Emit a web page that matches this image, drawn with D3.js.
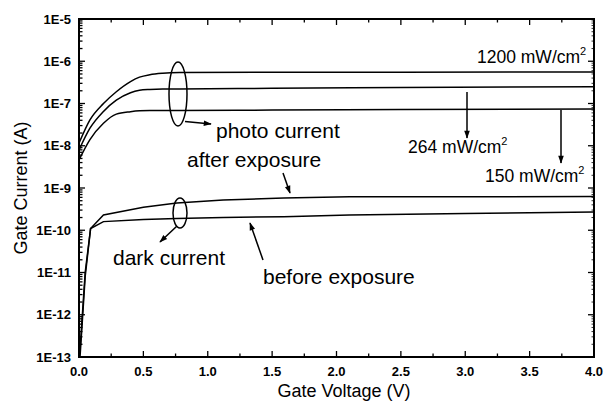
<!DOCTYPE html>
<html>
<head>
<meta charset="utf-8">
<script src="https://cdn.jsdelivr.net/npm/d3@7"></script>
<style>
  body { margin: 0; background: #fff; }
  svg { display: block; font-family: "Liberation Sans", Arial, sans-serif; }
  .tick-label { font-size: 13px; font-weight: bold; }
  .note { font-size: 21px; }
  .power { font-size: 17.5px; }
  .title { font-size: 18px; }
</style>
</head>
<body>
<div id="chart"></div>
<script>
// photo current (A) vs gate voltage (V)
var voltPhoto = [0, 0.085, 0.19, 0.29, 0.40, 0.47, 0.55, 0.65, 0.78, 1.5, 2.5, 4.0];
var photo1200 = [1.15e-8, 4.1e-8, 1.0e-7, 1.9e-7, 3.3e-7, 4.2e-7, 4.8e-7, 5.2e-7, 5.4e-7, 5.5e-7, 5.5e-7, 5.6e-7];
var photo264  = [7.9e-9, 2.6e-8, 6.5e-8, 1.2e-7, 1.8e-7, 2.05e-7, 2.15e-7, 2.2e-7, 2.2e-7, 2.3e-7, 2.4e-7, 2.5e-7];
var photo150  = [4.6e-9, 1.4e-8, 3.4e-8, 5.6e-8, 6.4e-8, 6.7e-8, 6.8e-8, 6.8e-8, 6.8e-8, 7.0e-8, 7.2e-8, 7.4e-8];

// dark current
var voltDark = [0.008, 0.048, 0.09, 0.19, 0.5, 0.76, 1.12, 1.59, 2.1, 3.0, 4.0];
var darkAfter  = [1.5e-13, 1.0e-11, 1.1e-10, 2.3e-10, 3.5e-10, 4.4e-10, 5.2e-10, 5.8e-10, 6.2e-10, 6.2e-10, 6.3e-10];
var darkBefore = [1.0e-13, 8.0e-12, 1.1e-10, 1.6e-10, 1.8e-10, 1.9e-10, 2.0e-10, 2.1e-10, 2.3e-10, 2.5e-10, 2.7e-10];

var xTicks = [0, 0.5, 1.0, 1.5, 2.0, 2.5, 3.0, 3.5, 4.0];
var yTicks = [1e-13, 1e-12, 1e-11, 1e-10, 1e-9, 1e-8, 1e-7, 1e-6, 1e-5];

var margin = {top: 19, right: 12, bottom: 46, left: 79},
    width = 606 - margin.left - margin.right,
    height = 403 - margin.top - margin.bottom;

var svg = d3.select('#chart').append('svg')
    .attr('width', 606)
    .attr('height', 403);

var g = svg.append('g')
    .attr('transform', 'translate(' + margin.left + ',' + margin.top + ')');

var x = d3.scaleLinear().domain([0, 4]).range([0, width]);
var y = d3.scaleLog().domain([1e-13, 1e-5]).range([height, 0]);

var defs = svg.append('defs');
defs.append('marker')
    .attr('id', 'arrow')
    .attr('viewBox', '0 0 10 10')
    .attr('refX', 9).attr('refY', 5)
    .attr('markerWidth', 9).attr('markerHeight', 8)
    .attr('markerUnits', 'userSpaceOnUse')
    .attr('orient', 'auto')
    .append('path')
    .attr('d', 'M0,1.5 L10,5 L0,8.5 Z')
    .attr('fill', '#000');

defs.append('clipPath').attr('id', 'clip')
    .append('rect').attr('width', width).attr('height', height);

// ticks on all four sides, pointing inward
var minorX = d3.range(0, 4.001, 0.25);
var minorY = [];
for (var e = -13; e < -5; e++) {
    for (var k = 2; k <= 9; k++) minorY.push(k * Math.pow(10, e));
}

var ticks = g.append('g').attr('stroke', '#000').attr('stroke-width', 1.3);
minorX.forEach(function(v){
    var len = (Math.abs(v * 2 - Math.round(v * 2)) < 1e-6) ? 6 : 3.5;
    ticks.append('line').attr('x1', x(v)).attr('x2', x(v)).attr('y1', height).attr('y2', height - len);
    ticks.append('line').attr('x1', x(v)).attr('x2', x(v)).attr('y1', 0).attr('y2', len);
});
yTicks.forEach(function(v){
    ticks.append('line').attr('x1', 0).attr('x2', 6).attr('y1', y(v)).attr('y2', y(v));
    ticks.append('line').attr('x1', width).attr('x2', width - 6).attr('y1', y(v)).attr('y2', y(v));
});
minorY.forEach(function(v){
    ticks.append('line').attr('x1', 0).attr('x2', 3.5).attr('y1', y(v)).attr('y2', y(v));
    ticks.append('line').attr('x1', width).attr('x2', width - 2.5).attr('y1', y(v)).attr('y2', y(v))
        .attr('stroke-width', 0.8);
});

g.append('rect')
    .attr('width', width).attr('height', height)
    .attr('fill', 'none').attr('stroke', '#000').attr('stroke-width', 2);

// tick labels
g.selectAll('.xl').data(xTicks).enter().append('text')
    .attr('class', 'tick-label')
    .attr('x', function(d){ return x(d); })
    .attr('y', height + 19)
    .attr('text-anchor', 'middle')
    .text(d3.format('.1f'));

g.selectAll('.yl').data(yTicks).enter().append('text')
    .attr('class', 'tick-label')
    .attr('x', -8)
    .attr('y', function(d){ return y(d) + 4.5; })
    .attr('text-anchor', 'end')
    .text(function(d){ return '1E' + Math.round(Math.log10(d)); });

svg.append('text').attr('class', 'title')
    .attr('x', 344)
    .attr('y', 397)
    .attr('text-anchor', 'middle')
    .text('Gate Voltage (V)');

svg.append('text').attr('class', 'title')
    .attr('transform', 'translate(27,' + (margin.top + height / 2) + ') rotate(-90)')
    .attr('text-anchor', 'middle')
    .text('Gate Current (A)');

// curves
var photoLine = d3.line()
    .x(function(d){ return x(d[0]); })
    .y(function(d){ return y(d[1]); })
    .curve(d3.curveMonotoneX);
var darkLine = d3.line()
    .x(function(d){ return x(d[0]); })
    .y(function(d){ return y(d[1]); });

var curves = g.append('g').attr('clip-path', 'url(#clip)')
    .attr('fill', 'none').attr('stroke', '#000').attr('stroke-width', 1.5);

[photo1200, photo264, photo150].forEach(function(s){
    curves.append('path').attr('d', photoLine(d3.zip(voltPhoto, s)));
});
[darkAfter, darkBefore].forEach(function(s){
    curves.append('path').attr('d', darkLine(d3.zip(voltDark, s)));
});

// annotations (page coordinates, shifted into the plot group)
var ann = g.append('g').attr('fill', 'none').attr('stroke', '#000').attr('stroke-width', 1.5)
    .attr('transform', 'translate(' + (-margin.left) + ',' + (-margin.top) + ')');
var labels = g.append('g')
    .attr('transform', 'translate(' + (-margin.left) + ',' + (-margin.top) + ')');

function arrow(x1, y1, x2, y2){
    ann.append('line')
        .attr('x1', x1).attr('y1', y1).attr('x2', x2).attr('y2', y2)
        .attr('marker-end', 'url(#arrow)');
}
function note(tx, ty, str, cls, sup){
    var t = labels.append('text').attr('class', cls || 'note').attr('x', tx).attr('y', ty).text(str);
    if (sup) t.append('tspan').attr('dy', -8).attr('font-size', 11).text(sup);
    return t;
}

// photo current ellipse
ann.append('ellipse').attr('cx', 178).attr('cy', 94).attr('rx', 9).attr('ry', 32);
arrow(185, 121.5, 211, 124);
note(216, 138, 'photo current');

// dark current ellipse
ann.append('ellipse').attr('cx', 180).attr('cy', 213).attr('rx', 7).attr('ry', 15);
arrow(177, 226, 160, 242);
note(113, 265, 'dark current');

note(187, 167, 'after exposure');
arrow(283, 173, 290, 193);

note(263, 284, 'before exposure', 'note').attr('font-size', 19.5);
arrow(263, 260, 250, 223);

// power density labels
note(477, 63, '1200 mW/cm', 'power', '2');
arrow(467, 92, 467, 138);
note(408, 153, '264 mW/cm', 'power', '2');
arrow(561, 110, 561, 163);
note(485, 182, '150 mW/cm', 'power', '2');
</script>
</body>
</html>
